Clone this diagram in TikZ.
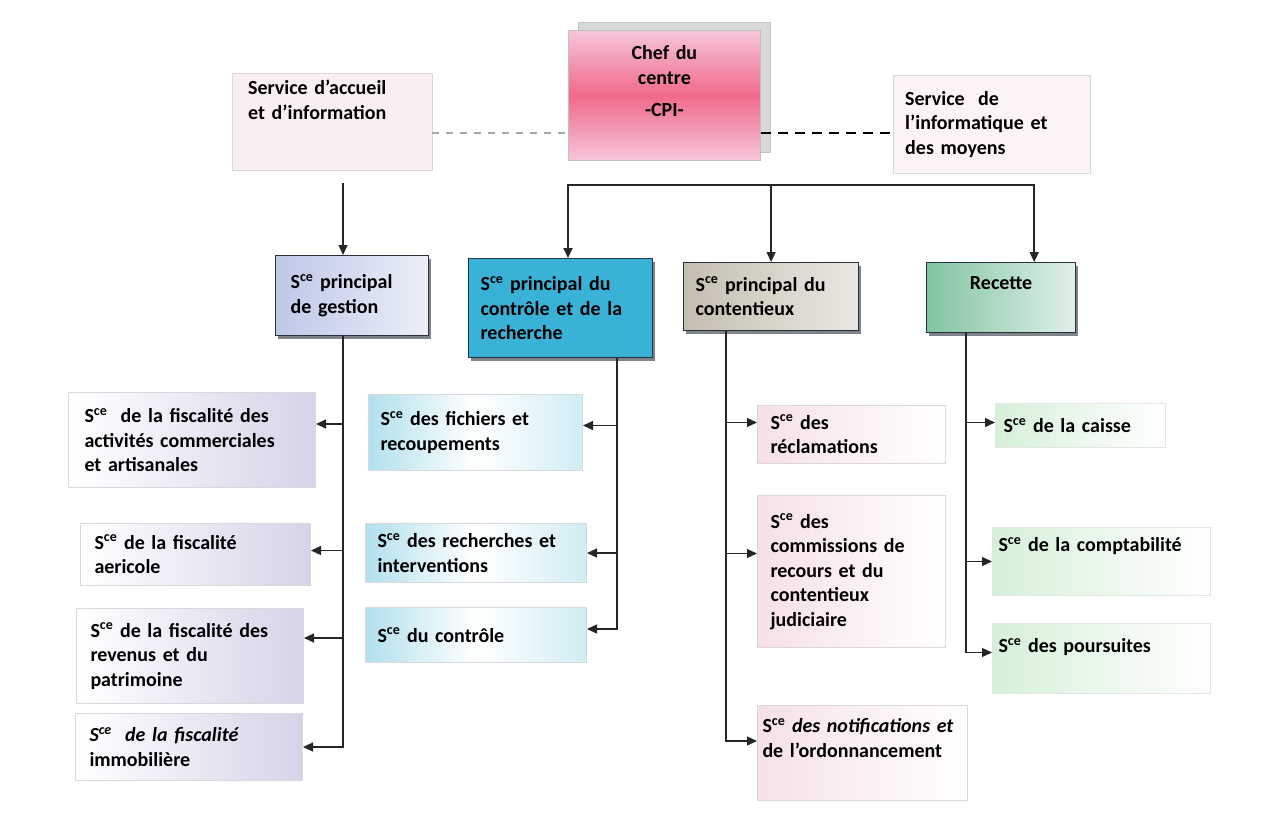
\documentclass[tikz,border=0pt]{standalone}
\usepackage{fontspec}
\setmainfont{Carlito}
\usetikzlibrary{arrows.meta,shadows}

\definecolor{chefpink}{RGB}{240,105,138}
\definecolor{chefpale}{RGB}{246,198,218}
\definecolor{accfill}{RGB}{250,238,245}
\definecolor{gestfill}{RGB}{190,200,232}
\definecolor{ctrlfill}{RGB}{58,178,215}
\definecolor{ctxfill}{RGB}{196,190,176}
\definecolor{recfill}{RGB}{130,196,162}
\definecolor{lavfill}{RGB}{216,210,232}
\definecolor{cyanfill}{RGB}{178,224,238}
\definecolor{rosefill}{RGB}{246,224,232}
\definecolor{mintfill}{RGB}{214,240,216}
\definecolor{edge}{RGB}{40,50,60}

\newcommand{\Sce}{S\textsuperscript{ce}}
\newcommand{\txtup}[1]{\\[#1]\mbox{}}

\begin{document}
\begin{tikzpicture}[x=1pt, y=-1pt,
	box/.style={rectangle, anchor=north west, align=left, inner ysep=0pt, font=\fontsize{20}{24.5}\selectfont\bfseries},
	head/.style={box, draw=edge, line width=1.2pt, drop shadow={shadow xshift=2pt, shadow yshift=-3pt, fill=edge!60, opacity=1}},
	sub/.style={box, draw=gray!30, line width=1pt},
	link/.style={draw=black!85, line width=1.3pt},
	arr/.style={link, -{Triangle[length=10pt,width=9pt]}}]
		
		\fill[white] (0,0) rectangle (1266,821);
		\useasboundingbox (0,0) rectangle (1266,821);
		
		% Chef du centre
		\node[box, align=center, minimum width=192pt, minimum height=130pt, text width=170pt, draw=gray!50, line width=0.8pt,
			top color=chefpale, bottom color=chefpale, middle color=chefpink,
			drop shadow={shadow xshift=10pt, shadow yshift=8pt, fill=gray!30, draw=gray!45, opacity=1}]
			(chef) at (568,30) {Chef du\\centre\\[8pt]-CPI-\txtup{3.5pt}};
		
		% Services rattaches
		\node[box, minimum width=200pt, minimum height=97pt, text width=168pt, inner xsep=16pt, fill=accfill, draw=gray!30] (accueil) at (232,73) {Service d'accueil\\et d'information\txtup{19.5pt}};
		\node[box, minimum width=197pt, minimum height=98pt, text width=173pt, inner xsep=12pt, fill=accfill!70, draw=gray!30] (info) at (893,75) {Service\ \ de\\l'informatique et\\des moyens};
		
		% Services principaux
		\node[head, minimum width=153pt, minimum height=80pt, text width=123pt, inner xsep=15pt, left color=gestfill, right color=gestfill!30] (gestion) at (275,255) {\Sce\ principal\\de gestion};
		\node[head, minimum width=184pt, minimum height=99pt, text width=160pt, inner xsep=12pt, fill=ctrlfill] (controle) at (468,258) {\Sce\ principal du\\contrôle et de la\\recherche};
		\node[head, minimum width=175pt, minimum height=68pt, text width=151pt, inner xsep=12pt, left color=ctxfill, right color=ctxfill!35] (contentieux) at (683,262) {\Sce\ principal du\\contentieux};
		\node[head, align=center, minimum width=149pt, minimum height=70pt, text width=125pt, inner xsep=12pt, left color=recfill, right color=recfill!25] (recette) at (926,262) {Recette\txtup{5.5pt}};
		
		% Gestion
		\node[sub, minimum width=247pt, minimum height=95pt, text width=215pt, inner xsep=16pt, left color=white, right color=lavfill] (fisccom) at (68,392) {\Sce\ \ de la fiscalité des\\activités commerciales\\et artisanales};
		\node[sub, minimum width=230pt, minimum height=62pt, text width=202pt, inner xsep=14pt, left color=white, right color=lavfill] (fiscagri) at (80,523) {\Sce\ de la fiscalité\\aericole};
		\node[sub, minimum width=227pt, minimum height=95pt, text width=199pt, inner xsep=14pt, left color=white, right color=lavfill] (fiscrev) at (76,608) {\Sce\ de la fiscalité des\\revenus et du\\patrimoine};
		\node[sub, minimum width=227pt, minimum height=67pt, text width=199pt, inner xsep=14pt, left color=white, right color=lavfill] (fiscimmo) at (75,713) {\textit{\Sce\ \ de la fiscalité}\\immobilière};
		
		% Controle et recherche
		\node[sub, minimum width=214pt, minimum height=76pt, text width=190pt, inner xsep=12pt, left color=cyanfill, right color=cyanfill!60, middle color=white] (fichiers) at (368,394) {\Sce\ des fichiers et\\recoupements};
		\node[sub, minimum width=221pt, minimum height=59pt, text width=197pt, inner xsep=12pt, left color=cyanfill, right color=cyanfill!60, middle color=white] (recherches) at (365,523) {\Sce\ des recherches et\\interventions};
		\node[sub, minimum width=221pt, minimum height=55pt, text width=197pt, inner xsep=12pt, left color=cyanfill, right color=cyanfill!60, middle color=white] (ctrl) at (365,607) {\Sce\ du contrôle};
		
		% Contentieux
		\node[sub, minimum width=188pt, minimum height=58pt, text width=162pt, inner xsep=13pt, left color=rosefill, right color=white] (reclam) at (757,405) {\Sce\ des\\réclamations};
		\node[sub, minimum width=188pt, minimum height=152pt, text width=162pt, inner xsep=13pt, left color=rosefill, right color=white] (commiss) at (757,495) {\Sce\ des\\commissions de\\recours et du\\contentieux\\judiciaire};
		\node[sub, minimum width=210pt, minimum height=95pt, text width=200pt, inner xsep=5pt, left color=rosefill, right color=white] (notif) at (757,705) {\Sce\ \textit{des notifications et}\\de l'ordonnancement\txtup{5.5pt}};
		
		% Recette
		\node[sub, draw=gray!20, minimum width=170pt, minimum height=44pt, text width=154pt, inner xsep=8pt, left color=mintfill, right color=white] (caisse) at (995,403) {\Sce\ de la caisse};
		\node[sub, draw=gray!20, minimum width=218pt, minimum height=68pt, text width=206pt, inner xsep=6pt, left color=mintfill, right color=white] (compta) at (992,527) {\Sce\ de la comptabilité\txtup{9.5pt}};
		\node[sub, draw=gray!20, minimum width=218pt, minimum height=70pt, text width=206pt, inner xsep=6pt, left color=mintfill, right color=white] (poursuites) at (992,623) {\Sce\ des poursuites\txtup{1.5pt}};
		
		% Liaisons fonctionnelles
		\coordinate (dashy) at (0,133);
		\draw[gray!70, line width=1.2pt, dash pattern=on 7pt off 7pt] (accueil.east |- dashy) -- (chef.west |- dashy);
		\draw[black, line width=2.2pt, dash pattern=on 10pt off 7pt] (chef.east |- dashy) -- (info.west |- dashy);
		
		% Liaisons hierarchiques
		\coordinate (busy) at (0,185);
		\coordinate (rectop) at ([xshift=-42pt]recette.north east);
		\draw[link, line width=1.8pt, {Triangle[length=10pt,width=9pt]}-{Triangle[length=10pt,width=9pt]}] (chef.west |- controle.north) -- (chef.west |- busy) -- (rectop |- busy) -- (rectop);
		\draw[arr] (contentieux.north |- busy) -- (contentieux.north);
		
		\coordinate (gtrunk) at (343,0);
		\coordinate (accbot) at ([yshift=-13pt]accueil.south);
		\draw[arr] (accbot -| gtrunk) -- (gtrunk |- gestion.north);
		
		% Gestion
		\draw[arr] (gtrunk |- gestion.south) |- (fiscimmo.east);
		\coordinate (g1) at ([yshift=16pt]fisccom.east);
		\coordinate (g2) at ([yshift=4pt]fiscagri.east);
		\coordinate (g3) at ([yshift=18pt]fiscrev.east);
		\draw[arr] (g1 -| gtrunk) -- (g1);
		\draw[arr] (g2 -| gtrunk) -- (g2);
		\draw[arr] (g3 -| gtrunk) -- (g3);
		
		% Controle
		\coordinate (ctrunk) at (617,0);
		\coordinate (c1) at ([yshift=7pt]fichiers.east);
		\draw[arr] (ctrunk |- controle.south) |- ([yshift=6pt]ctrl.east);
		\draw[arr] (c1 -| ctrunk) -- (c1);
		\draw[arr] (recherches.east -| ctrunk) -- (recherches.east);
		
		% Contentieux
		\coordinate (ktrunk) at (726,0);
		\coordinate (k1) at ([yshift=12pt]reclam.west);
		\coordinate (k2) at ([yshift=18pt]commiss.west);
		\draw[arr] (ktrunk |- contentieux.south) |- ([yshift=12pt]notif.west);
		\draw[arr] (k1 -| ktrunk) -- (k1);
		\draw[arr] (k2 -| ktrunk) -- (k2);
		
		% Recette
		\coordinate (rtrunk) at (966,0);
		\coordinate (r1) at ([yshift=3pt]caisse.west);
		\draw[arr] (rtrunk |- recette.south) |- ([yshift=6pt]poursuites.west);
		\draw[arr] (r1 -| rtrunk) -- (r1);
		\draw[arr] (compta.west -| rtrunk) -- (compta.west);
		
	\end{tikzpicture}
\end{document}
